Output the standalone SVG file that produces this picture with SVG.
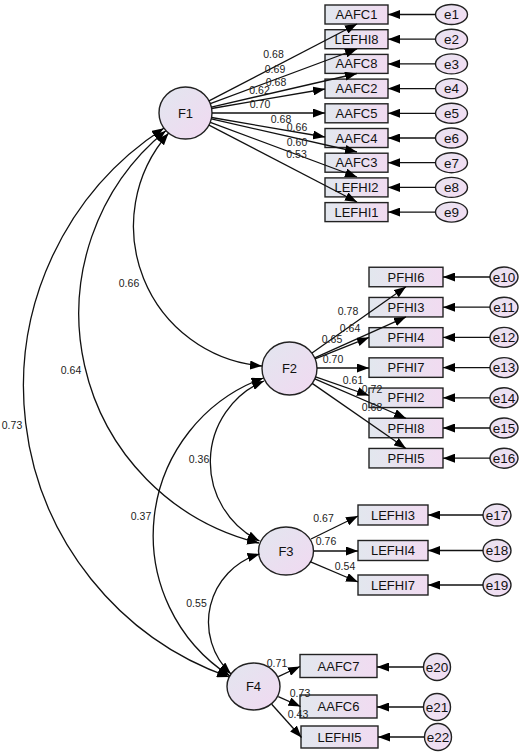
<svg xmlns="http://www.w3.org/2000/svg" width="520" height="753" viewBox="0 0 520 753">
<style>
text{font-family:"Liberation Sans",Arial,sans-serif;text-anchor:middle}
.bx{fill:url(#gb);stroke:#222;stroke-width:1.4}
.lv{fill:url(#gc);stroke:#222;stroke-width:1.4}
.er{fill:url(#ge);stroke:#222;stroke-width:1.4}
.bt{font-size:13px;fill:#111}
.lt{font-size:13px;fill:#111}
.et{font-size:13.5px;fill:#111}
.ld{font-size:10.5px;fill:#222}
.ln{fill:none;stroke:#111;stroke-width:1.3;marker-end:url(#ah)}
.cv{fill:none;stroke:#111;stroke-width:1.3;marker-start:url(#ah);marker-end:url(#ah)}
</style>
<defs>
<linearGradient id="gb" x1="0" y1="0" x2="1" y2="0"><stop offset="0" stop-color="#e2e7ee"/><stop offset="1" stop-color="#f1dbf1"/></linearGradient>
<linearGradient id="gc" x1="0" y1="0" x2="1" y2="1"><stop offset="0" stop-color="#e2e6ef"/><stop offset="1" stop-color="#f1d9f1"/></linearGradient>
<linearGradient id="ge" x1="0" y1="0" x2="1" y2="1"><stop offset="0" stop-color="#e8e3f0"/><stop offset="1" stop-color="#f3dcf3"/></linearGradient>
<marker id="ah" markerUnits="userSpaceOnUse" markerWidth="13" markerHeight="9" refX="12" refY="4.5" orient="auto-start-reverse"><path d="M0,0 L12,4.5 L0,9 z" fill="#000"/></marker>
</defs>

<g id="F1"><ellipse class="lv" cx="185.5" cy="113" rx="26.5" ry="26"/><text class="lt" x="185.5" y="117.5">F1</text></g>
<g id="F2"><ellipse class="lv" cx="289.5" cy="368.5" rx="27.5" ry="26.5"/><text class="lt" x="289.5" y="373">F2</text></g>
<g id="F3"><ellipse class="lv" cx="286" cy="551" rx="27.5" ry="24"/><text class="lt" x="286" y="555.5">F3</text></g>
<g id="F4"><ellipse class="lv" cx="253.5" cy="686.5" rx="26.5" ry="23.5"/><text class="lt" x="253.5" y="691">F4</text></g>

<g id="AAFC1"><rect class="bx" x="325" y="5" width="63" height="19"/><text class="bt" x="356.5" y="19">AAFC1</text></g>
<g id="LEFHI8"><rect class="bx" x="325" y="29.7" width="63" height="19"/><text class="bt" x="356.5" y="43.7">LEFHI8</text></g>
<g id="AAFC8"><rect class="bx" x="325" y="54.4" width="63" height="19"/><text class="bt" x="356.5" y="68.4">AAFC8</text></g>
<g id="AAFC2"><rect class="bx" x="325" y="79.1" width="63" height="19"/><text class="bt" x="356.5" y="93.1">AAFC2</text></g>
<g id="AAFC5"><rect class="bx" x="325" y="103.8" width="63" height="19"/><text class="bt" x="356.5" y="117.8">AAFC5</text></g>
<g id="AAFC4"><rect class="bx" x="325" y="128.5" width="63" height="19"/><text class="bt" x="356.5" y="142.5">AAFC4</text></g>
<g id="AAFC3"><rect class="bx" x="325" y="153.2" width="63" height="19"/><text class="bt" x="356.5" y="167.2">AAFC3</text></g>
<g id="LEFHI2"><rect class="bx" x="325" y="177.9" width="63" height="19"/><text class="bt" x="356.5" y="191.9">LEFHI2</text></g>
<g id="LEFHI1"><rect class="bx" x="325" y="202.6" width="63" height="19"/><text class="bt" x="356.5" y="216.6">LEFHI1</text></g>

<g id="e1"><ellipse class="er" cx="451.5" cy="14.5" rx="16" ry="10"/><text class="et" x="451.5" y="19.3">e1</text></g>
<g id="e2"><ellipse class="er" cx="451.5" cy="39.2" rx="16" ry="10"/><text class="et" x="451.5" y="44">e2</text></g>
<g id="e3"><ellipse class="er" cx="451.5" cy="63.9" rx="16" ry="10"/><text class="et" x="451.5" y="68.7">e3</text></g>
<g id="e4"><ellipse class="er" cx="451.5" cy="88.6" rx="16" ry="10"/><text class="et" x="451.5" y="93.4">e4</text></g>
<g id="e5"><ellipse class="er" cx="451.5" cy="113.3" rx="16" ry="10"/><text class="et" x="451.5" y="118.1">e5</text></g>
<g id="e6"><ellipse class="er" cx="451.5" cy="138" rx="16" ry="10"/><text class="et" x="451.5" y="142.8">e6</text></g>
<g id="e7"><ellipse class="er" cx="451.5" cy="162.7" rx="16" ry="10"/><text class="et" x="451.5" y="167.5">e7</text></g>
<g id="e8"><ellipse class="er" cx="451.5" cy="187.4" rx="16" ry="10"/><text class="et" x="451.5" y="192.2">e8</text></g>
<g id="e9"><ellipse class="er" cx="451.5" cy="212.1" rx="16" ry="10"/><text class="et" x="451.5" y="216.9">e9</text></g>

<g id="PFHI6"><rect class="bx" x="369" y="267.25" width="74" height="19.5"/><text class="bt" x="406" y="281.5">PFHI6</text></g>
<g id="PFHI3"><rect class="bx" x="369" y="297.45" width="74" height="19.5"/><text class="bt" x="406" y="311.7">PFHI3</text></g>
<g id="PFHI4"><rect class="bx" x="369" y="327.65" width="74" height="19.5"/><text class="bt" x="406" y="341.9">PFHI4</text></g>
<g id="PFHI7"><rect class="bx" x="369" y="357.85" width="74" height="19.5"/><text class="bt" x="406" y="372.1">PFHI7</text></g>
<g id="PFHI2"><rect class="bx" x="369" y="388.05" width="74" height="19.5"/><text class="bt" x="406" y="402.3">PFHI2</text></g>
<g id="PFHI8"><rect class="bx" x="369" y="418.25" width="74" height="19.5"/><text class="bt" x="406" y="432.5">PFHI8</text></g>
<g id="PFHI5"><rect class="bx" x="369" y="448.45" width="74" height="19.5"/><text class="bt" x="406" y="462.7">PFHI5</text></g>

<g id="e10"><ellipse class="er" cx="504" cy="277" rx="14" ry="10"/><text class="et" x="504" y="281.8">e10</text></g>
<g id="e11"><ellipse class="er" cx="504" cy="307.2" rx="14" ry="10"/><text class="et" x="504" y="312">e11</text></g>
<g id="e12"><ellipse class="er" cx="504" cy="337.4" rx="14" ry="10"/><text class="et" x="504" y="342.2">e12</text></g>
<g id="e13"><ellipse class="er" cx="504" cy="367.6" rx="14" ry="10"/><text class="et" x="504" y="372.4">e13</text></g>
<g id="e14"><ellipse class="er" cx="504" cy="397.8" rx="14" ry="10"/><text class="et" x="504" y="402.6">e14</text></g>
<g id="e15"><ellipse class="er" cx="504" cy="428" rx="14" ry="10"/><text class="et" x="504" y="432.8">e15</text></g>
<g id="e16"><ellipse class="er" cx="504" cy="458.2" rx="14" ry="10"/><text class="et" x="504" y="463">e16</text></g>

<g id="LEFHI3"><rect class="bx" x="358" y="505" width="70" height="20"/><text class="bt" x="393" y="519.5">LEFHI3</text></g>
<g id="LEFHI4"><rect class="bx" x="358" y="540.5" width="70" height="20"/><text class="bt" x="393" y="555">LEFHI4</text></g>
<g id="LEFHI7"><rect class="bx" x="358" y="575" width="70" height="20"/><text class="bt" x="393" y="589.5">LEFHI7</text></g>

<g id="e17"><ellipse class="er" cx="497" cy="515" rx="14" ry="11"/><text class="et" x="497" y="519.8">e17</text></g>
<g id="e18"><ellipse class="er" cx="497" cy="550.5" rx="14" ry="11"/><text class="et" x="497" y="555.3">e18</text></g>
<g id="e19"><ellipse class="er" cx="497" cy="585" rx="14" ry="11"/><text class="et" x="497" y="589.8">e19</text></g>

<g id="AAFC7"><rect class="bx" x="300" y="654.5" width="77" height="23"/><text class="bt" x="338.5" y="670.5">AAFC7</text></g>
<g id="AAFC6"><rect class="bx" x="300" y="695" width="77" height="23"/><text class="bt" x="338.5" y="711">AAFC6</text></g>
<g id="LEFHI5"><rect class="bx" x="301" y="726" width="77" height="22"/><text class="bt" x="339.5" y="741.5">LEFHI5</text></g>

<g id="e20"><ellipse class="er" cx="437" cy="667" rx="13.5" ry="13.5"/><text class="et" x="437" y="671.8">e20</text></g>
<g id="e21"><ellipse class="er" cx="437" cy="707" rx="13.5" ry="13.5"/><text class="et" x="437" y="711.8">e21</text></g>
<g id="e22"><ellipse class="er" cx="438" cy="737" rx="13.5" ry="13.5"/><text class="et" x="438" y="741.8">e22</text></g>

<g id="connectors">
<line class="ln" x1="209" y1="100.8" x2="357" y2="24"/>
<line class="ln" x1="210.3" y1="103.7" x2="357" y2="49"/>
<line class="ln" x1="211.3" y1="107.1" x2="357" y2="73.5"/>
<line class="ln" x1="211.6" y1="108.5" x2="325" y2="89"/>
<line class="ln" x1="212" y1="113" x2="325" y2="113"/>
<line class="ln" x1="211.6" y1="117.5" x2="325" y2="137"/>
<line class="ln" x1="211.3" y1="118.9" x2="357" y2="152"/>
<line class="ln" x1="210.3" y1="122.3" x2="357" y2="177"/>
<line class="ln" x1="209" y1="125.2" x2="357" y2="202"/>

<line class="ln" x1="435.5" y1="14.5" x2="388" y2="14.5"/>
<line class="ln" x1="435.5" y1="39.2" x2="388" y2="39.2"/>
<line class="ln" x1="435.5" y1="63.9" x2="388" y2="63.9"/>
<line class="ln" x1="435.5" y1="88.6" x2="388" y2="88.6"/>
<line class="ln" x1="435.5" y1="113.3" x2="388" y2="113.3"/>
<line class="ln" x1="435.5" y1="138" x2="388" y2="138"/>
<line class="ln" x1="435.5" y1="162.7" x2="388" y2="162.7"/>
<line class="ln" x1="435.5" y1="187.4" x2="388" y2="187.4"/>
<line class="ln" x1="435.5" y1="212.1" x2="388" y2="212.1"/>

<line class="ln" x1="312" y1="353" x2="406" y2="286.75"/>
<line class="ln" x1="314.7" y1="357.8" x2="406" y2="316.95"/>
<line class="ln" x1="315.1" y1="358.8" x2="369" y2="337.4"/>
<line class="ln" x1="317" y1="368" x2="369" y2="368"/>
<line class="ln" x1="315.6" y1="376.9" x2="369" y2="395.5"/>
<line class="ln" x1="314.8" y1="378.9" x2="406" y2="418.25"/>
<line class="ln" x1="312.2" y1="383.4" x2="406" y2="448.45"/>

<line class="ln" x1="490" y1="277" x2="443" y2="277"/>
<line class="ln" x1="490" y1="307.2" x2="443" y2="307.2"/>
<line class="ln" x1="490" y1="337.4" x2="443" y2="337.4"/>
<line class="ln" x1="490" y1="367.6" x2="443" y2="367.6"/>
<line class="ln" x1="490" y1="397.8" x2="443" y2="397.8"/>
<line class="ln" x1="490" y1="428" x2="443" y2="428"/>
<line class="ln" x1="490" y1="458.2" x2="443" y2="458.2"/>

<line class="ln" x1="311" y1="539" x2="358" y2="516"/>
<line class="ln" x1="313.5" y1="551" x2="358" y2="551"/>
<line class="ln" x1="310" y1="561.7" x2="358" y2="582"/>

<line class="ln" x1="483" y1="515" x2="428" y2="515"/>
<line class="ln" x1="483" y1="550.5" x2="428" y2="550.5"/>
<line class="ln" x1="483" y1="585" x2="428" y2="585"/>

<line class="ln" x1="278.3" y1="676.7" x2="300" y2="666.5"/>
<line class="ln" x1="278.3" y1="696.7" x2="300.5" y2="706.5"/>
<line class="ln" x1="271.7" y1="704.3" x2="301.5" y2="737.5"/>

<line class="ln" x1="423.5" y1="667" x2="377" y2="667"/>
<line class="ln" x1="423.5" y1="707" x2="377" y2="707"/>
<line class="ln" x1="424.5" y1="737" x2="378" y2="737"/>

<path class="cv" d="M168.5,133.3 A140.4,140.4 0 0 0 262,366"/>
<path class="cv" d="M165.8,130.7 A236,236 0 0 0 259,543"/>
<path class="cv" d="M163.8,128.2 A308,308 0 0 0 229,677"/>
<path class="cv" d="M264,381 A88,88 0 0 0 259.5,541"/>
<path class="cv" d="M263.5,378 A167.3,167.3 0 0 0 230,676"/>
<path class="cv" d="M259.5,554 A71,71 0 0 0 231,674"/>
</g>

<g id="labels">
<text class="ld" x="273.5" y="58">0.68</text>
<text class="ld" x="275" y="73">0.69</text>
<text class="ld" x="276" y="86">0.68</text>
<text class="ld" x="259.5" y="94">0.62</text>
<text class="ld" x="260" y="108">0.70</text>
<text class="ld" x="281" y="123">0.68</text>
<text class="ld" x="297" y="131">0.66</text>
<text class="ld" x="297" y="146">0.60</text>
<text class="ld" x="296.5" y="158">0.53</text>

<text class="ld" x="348" y="315">0.78</text>
<text class="ld" x="350" y="332">0.64</text>
<text class="ld" x="332" y="343">0.65</text>
<text class="ld" x="333" y="363">0.70</text>
<text class="ld" x="353" y="384">0.61</text>
<text class="ld" x="372" y="393">0.72</text>
<text class="ld" x="372" y="411">0.68</text>

<text class="ld" x="323.5" y="522">0.67</text>
<text class="ld" x="326" y="545">0.76</text>
<text class="ld" x="345" y="570">0.54</text>

<text class="ld" x="277" y="667">0.71</text>
<text class="ld" x="300" y="697">0.73</text>
<text class="ld" x="298" y="718">0.43</text>

<text class="ld" x="129" y="287">0.66</text>
<text class="ld" x="71" y="374">0.64</text>
<text class="ld" x="12" y="429">0.73</text>
<text class="ld" x="199" y="463">0.36</text>
<text class="ld" x="141" y="520">0.37</text>
<text class="ld" x="196.5" y="607">0.55</text>
</g>
</svg>
